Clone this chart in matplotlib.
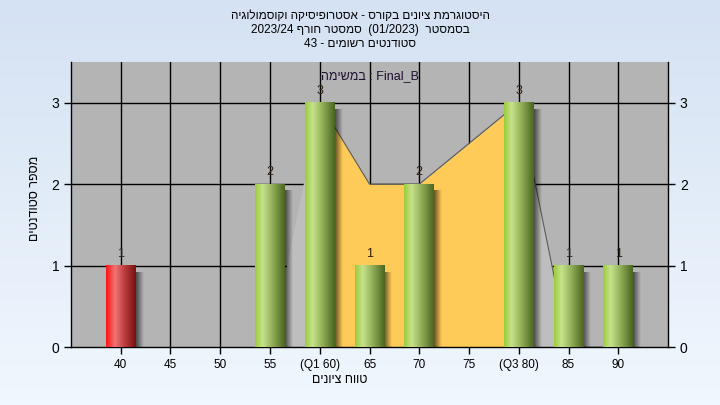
import matplotlib

matplotlib.use("Agg")
import re

import matplotlib.pyplot as plt
import numpy as np
from matplotlib.colors import LinearSegmentedColormap

plt.rcParams["font.family"] = ["Liberation Sans", "DejaVu Sans"]

# --- data -------------------------------------------------------------------
SCORES = [40, 45, 50, 55, 60, 65, 70, 75, 80, 85, 90]
TICK_LABELS = ["40", "45", "50", "55", "(Q1 60)", "65", "70", "75", "(Q3 80)", "85", "90"]
COUNTS = [1, 0, 0, 2, 3, 1, 2, 0, 3, 1, 1]
FAIL_BELOW = 55
# outline of the spread area drawn behind the bars
AREA_X = [55, 60, 65, 70, 80, 85, 90]
AREA_Y = [0, 3, 2, 2, 3, 0, 0]
Q1, Q3 = 60, 80

TITLE_LINES = ["היסטוגרמת ציונים בקורס - אסטרופיסיקה וקוסמולוגיה",
               "בסמסטר  (01/2023)  סמסטר חורף 2023/24",
               "סטודנטים רשומים - 43"]
TASK = "Final_B : במשימה"
XLABEL = "טווח ציונים"
YLABEL = "מספר סטודנטים"

GREEN = LinearSegmentedColormap.from_list(
    "g", [(0, "#9ccc3a"), (0.25, "#c6e28e"), (0.55, "#98b45c"), (1, "#4a6620")])
RED = LinearSegmentedColormap.from_list(
    "r", [(0, "#ff1414"), (0.3, "#f07474"), (0.6, "#c04040"), (1, "#781010")])


def rtl(s):
    """Crude visual ordering for an RTL line: matplotlib lays glyphs left to right."""
    r = s[::-1]
    r = re.sub(r"[A-Za-z0-9_/.]+", lambda m: m.group(0)[::-1], r)
    return r.translate(str.maketrans("()", ")("))


def pos(score):
    return (score - SCORES[0]) / 5


fig = plt.figure(figsize=(7.2, 4.05), dpi=100)

# light blue gradient background
bg = fig.add_axes([0, 0, 1, 1], zorder=-10)
bg.imshow(np.linspace(0, 1, 100).reshape(-1, 1), aspect="auto", extent=[0, 1, 0, 1],
          cmap=LinearSegmentedColormap.from_list("bg", ["#f0f7fe", "#d5e2f3"]), origin="lower")
bg.axis("off")

ax = fig.add_axes([0.0986, 0.1432, 0.8292, 0.7038])
ax.set_facecolor("#b4b4b4")

# grid
for i in range(len(SCORES)):
    ax.axvline(i, color="black", lw=1, zorder=1)
for v in (1, 2, 3):
    ax.axhline(v, color="black", lw=1, zorder=1)

# spread area (lighter gray outside IQR, orange inside)
area_x = np.array([pos(s) for s in AREA_X])
area_y = np.array(AREA_Y, dtype=float)
ax.fill_between(area_x, area_y, color="#bebebe", lw=0, zorder=2)
inner = (np.array(AREA_X) >= Q1) & (np.array(AREA_X) <= Q3)
ax.fill_between(area_x[inner], area_y[inner], color="#ffcb58", lw=0, zorder=2.5)
# edge only shows from Q1 onwards in the original
ax.plot(area_x[1:], area_y[1:], color="#5a5a5a", lw=0.8, zorder=2.6)

# bars with cylinder shading and soft shadow
w = 0.6
grad = np.linspace(0, 1, 64).reshape(1, -1)
shadow = np.zeros((1, 32, 4))
shadow[..., 3] = np.linspace(0.6, 0, 32)
for i, (s, c) in enumerate(zip(SCORES, COUNTS)):
    if c == 0:
        continue
    x0 = i - w / 2
    ax.imshow(shadow, aspect="auto", extent=[x0 + w, x0 + w + 0.15, 0, c - 0.08],
              zorder=3, interpolation="bilinear")
    ax.imshow(grad, aspect="auto", extent=[x0, x0 + w, 0, c],
              cmap=RED if s < FAIL_BELOW else GREEN, zorder=4, interpolation="bilinear")
    ax.text(i, c + 0.07, str(c), ha="center", va="bottom", fontsize=9,
            color="#302010", zorder=5)

ax.set_xlim(-1, 11)
ax.set_ylim(0, 3.5)

ax.text(0.5, 0.97, rtl(TASK), transform=ax.transAxes, ha="center", va="top",
        fontsize=9, color="#201030")

# axes styling
ax.set_xticks(range(len(SCORES)))
ax.set_xticklabels(TICK_LABELS, fontsize=8.5)
ax.set_yticks([0, 1, 2, 3])
ax.tick_params(axis="both", direction="out", length=5, width=1, colors="black")
ax.tick_params(axis="y", labelsize=10, right=True, labelright=True)
ax.spines["top"].set_visible(False)
for sp in ("left", "right", "bottom"):
    ax.spines[sp].set_linewidth(1)

fig.text(0.5, 0.975, "\n".join(rtl(t) for t in TITLE_LINES), ha="center", va="top",
         fontsize=8.5, linespacing=1.2)
fig.text(0.472, 0.062, rtl(XLABEL), ha="center", va="center", fontsize=9)
fig.text(0.048, 0.51, rtl(YLABEL), ha="center", va="center", fontsize=9, rotation=90)

fig.savefig("out.png", dpi=100)
